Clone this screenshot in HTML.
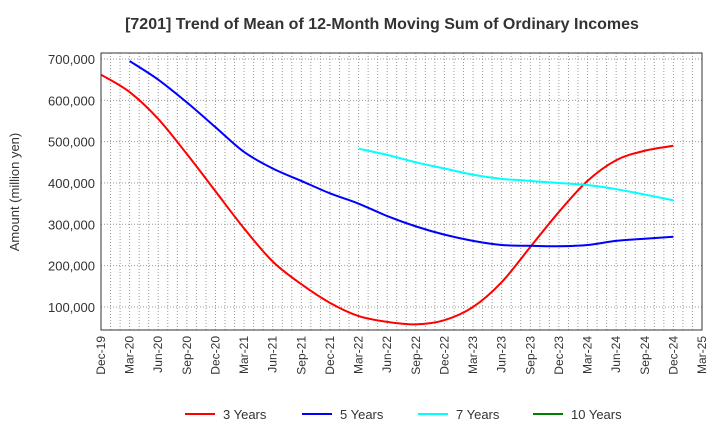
<!DOCTYPE html>
<html><head><meta charset="utf-8"><style>
body{margin:0;background:#fff;font-family:"Liberation Sans",sans-serif}
svg text{font-family:"Liberation Sans",sans-serif}
</style></head><body>
<svg id="c" width="720" height="440" xmlns="http://www.w3.org/2000/svg">
<text x="382" y="29" text-anchor="middle" font-size="16" font-weight="bold" fill="#333">[7201]  Trend of Mean of 12-Month Moving Sum of Ordinary Incomes</text>
<text transform="translate(19,192) rotate(-90)" text-anchor="middle" font-size="13" fill="#333">Amount (million yen)</text>
<g id="grid"></g><g id="series"></g><g id="axes"></g><g id="legend"></g>
</svg>
<script>
const xLabels=["Dec-19","Mar-20","Jun-20","Sep-20","Dec-20","Mar-21","Jun-21","Sep-21","Dec-21","Mar-22","Jun-22","Sep-22","Dec-22","Mar-23","Jun-23","Sep-23","Dec-23","Mar-24","Jun-24","Sep-24","Dec-24","Mar-25"];
const yTicks=[100000,200000,300000,400000,500000,600000,700000];
const s3=[662,620,555,470,380,290,210,155,110,78,64,58,68,100,160,245,330,405,455,478,490];
const s5=[null,695,650,595,535,475,435,405,375,350,320,295,275,260,250,248,247,250,260,265,270];
const s7=[null,null,null,null,null,null,null,null,null,483,468,450,435,420,410,405,400,395,385,372,358];
const s10=[];
const NS="http://www.w3.org/2000/svg";
const L=101,R=702,T=53,B=330;
const STEP=(R-L)/21;
const X=i=>L+i*STEP;
const Y=v=>348.3-v*0.4133;
function el(p,t,a){const e=document.createElementNS(NS,t);for(const k in a)e.setAttribute(k,a[k]);p.appendChild(e);return e;}
const g=document.getElementById('grid'),ax=document.getElementById('axes'),se=document.getElementById('series'),lg=document.getElementById('legend');
for(let m=1;m<63;m++){const x=L+m*STEP/3;if(x>R-1)break;const ln=el(g,'line',{x1:x,x2:x,y1:T,y2:B,stroke:'#999','stroke-dasharray':'1,2','stroke-width':1});

}
yTicks.forEach(v=>{const y=Y(v/1000);const ln=el(g,'line',{x1:L,x2:R,y1:y,y2:y,stroke:'#999','stroke-dasharray':'1,2'});


const t=el(ax,'text',{x:L-6,y:y+5,'text-anchor':'end','font-size':13,fill:'#333'});t.textContent=v.toLocaleString('en-US');

});
const fr=el(ax,'rect',{x:L,y:T,width:R-L,height:B-T,fill:'none',stroke:'#333'});


xLabels.forEach((l,i)=>{const x=X(i);const t=el(ax,'text',{transform:`translate(${x+4},${B+6}) rotate(-90)`,'text-anchor':'end','font-size':12,fill:'#333'});t.textContent=l;

});
function path(d,c,name){const pts=[];d.forEach((v,i)=>{if(v!=null)pts.push([X(i),Y(v)]);});if(pts.length<2)return;
let s=`M${pts[0][0]},${pts[0][1]}`;for(let i=0;i<pts.length-1;i++){const p0=pts[i-1]||pts[i],p1=pts[i],p2=pts[i+1],p3=pts[i+2]||p2;
s+=` C${p1[0]+(p2[0]-p0[0])/6},${p1[1]+(p2[1]-p0[1])/6} ${p2[0]-(p3[0]-p1[0])/6},${p2[1]-(p3[1]-p1[1])/6} ${p2[0]},${p2[1]}`;}
const p=el(se,'path',{d:s,fill:'none',stroke:c,'stroke-width':2});

}
path(s3,'#ff0000','line-3-years');path(s5,'#0000ff','line-5-years');path(s7,'#00ffff','line-7-years');path(s10,'#008000','line-10-years');
[["3 Years","#ff0000",185],["5 Years","#0000ff",302],["7 Years","#00ffff",418],["10 Years","#008000",533]].forEach(([n,c,x])=>{
const gg=el(lg,'g',{});


el(gg,'line',{x1:x,x2:x+30,y1:414,y2:414,stroke:c,'stroke-width':2});
const t=el(gg,'text',{x:x+38,y:419,'font-size':13,fill:'#333'});t.textContent=n;});
</script>
</body></html>
